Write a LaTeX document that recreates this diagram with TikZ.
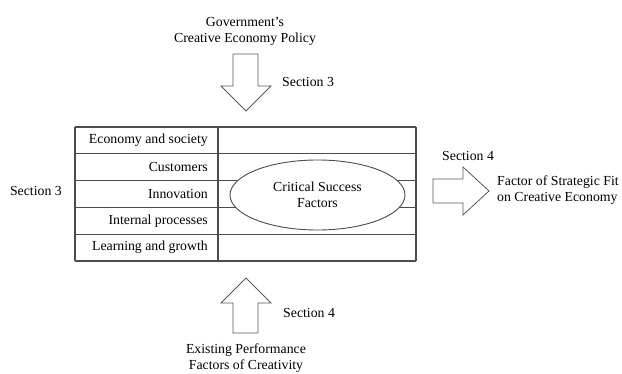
\documentclass[tikz,border=0pt]{standalone}
\usepackage{fontspec}
\setmainfont{Liberation Serif}
\begin{document}
\begin{tikzpicture}[x=1pt,y=-1pt,
  tline/.style={draw=black!70,line width=1.1pt},
  bigarrow/.style={draw=black!65,line width=0.8pt,fill=white,line join=miter},
  lbl/.style={font=\fontsize{13.8}{16}\selectfont,inner sep=0pt,align=center},
  rowlbl/.style={lbl,anchor=east}]
\useasboundingbox (0,0) rectangle (622,374);
% table
\foreach \y in {127,153.8,180.6,207.4,234.2,261}
  \draw[tline] (75,\y) -- (416,\y);
\draw[tline] (75,127) -- (75,261);
\draw[tline] (218,127) -- (218,261);
\draw[tline] (416,127) -- (416,261);
% row labels
\node[rowlbl] (r1) at (208,140.4) {Economy and society};
\node[rowlbl] (r2) at (208,167.2) {Customers};
\node[rowlbl] (r3) at (208,194) {Innovation};
\node[rowlbl] (r4) at (208,220.8) {Internal processes};
\node[rowlbl] (r5) at (208,247.6) {Learning and growth};
% ellipse
\draw[draw=black!70,line width=0.9pt,fill=white] (317.5,195) ellipse [x radius=87.5, y radius=35];
\node[lbl] (csf) at (317.5,195) {Critical Success\\Factors};
% top arrow
\draw[bigarrow] (233,54) -- (258,54) -- (258,86) -- (271,86) -- (246,111) -- (221,86) -- (233,86) -- cycle;
\node[lbl] (gov) at (245,31) {Government's\\Creative Economy Policy};
\node[lbl,anchor=west] (s3top) at (282,82) {Section 3};
% bottom arrow
\draw[bigarrow] (233,333) -- (258,333) -- (258,303) -- (271,303) -- (246,278) -- (221,303) -- (233,303) -- cycle;
\node[lbl] (exist) at (246,358.5) {Existing Performance\\Factors of Creativity};
\node[lbl,anchor=west] (s4bot) at (283,313) {Section 4};
% right arrow
\draw[bigarrow] (433,179) -- (463,179) -- (463,167) -- (489,191) -- (463,215) -- (463,203) -- (433,203) -- cycle;
\node[lbl,anchor=west] (s4right) at (442,156) {Section 4};
\node[lbl,anchor=west,align=left] (fit) at (497,190) {Factor of Strategic Fit\\on Creative Economy};
% left label
\node[lbl,anchor=east] (s3left) at (62,191) {Section 3};
\end{tikzpicture}
\end{document}
